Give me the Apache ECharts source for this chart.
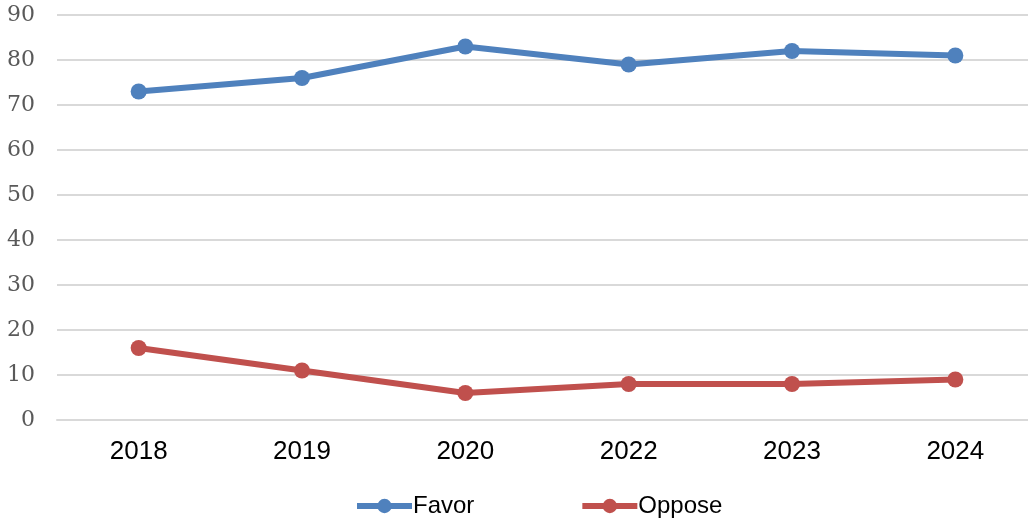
<!DOCTYPE html>
<html>
<head>
<meta charset="utf-8">
<script src="https://cdn.jsdelivr.net/npm/echarts@6/dist/echarts.min.js"></script>
<style>html,body{margin:0;padding:0;background:#fff}#c{width:1028px;height:520px}</style>
</head>
<body>
<div id="c"></div>
<script>
const categories = ['2018', '2019', '2020', '2022', '2023', '2024'];
const favor = [73, 76, 83, 79, 82, 81];
const oppose = [16, 11, 6, 8, 8, 9];
const yTicks = [0, 10, 20, 30, 40, 50, 60, 70, 80, 90];

const chart = echarts.init(document.getElementById('c'));
const mk = (name, data, color) => ({
  name, type: 'line', data,
  symbol: 'circle', symbolSize: 16,
  lineStyle: { width: 6, color },
  itemStyle: { color },
  animation: false
});
chart.setOption({
  animation: false,
  grid: { left: 57, width: 980, top: 15, height: 405, containLabel: false, outerBoundsMode: 'none' },
  xAxis: {
    type: 'category', data: categories, boundaryGap: true,
    axisLine: { show: true, lineStyle: { color: '#d9d9d9', width: 2 } },
    axisTick: { show: false },
    axisLabel: { color: '#000', fontFamily: 'Liberation Sans', fontSize: 26, margin: 19 }
  },
  yAxis: {
    type: 'value', min: yTicks[0], max: yTicks[yTicks.length - 1], interval: 10,
    axisLine: { show: false }, axisTick: { show: false },
    splitLine: { lineStyle: { color: '#d9d9d9', width: 2 } },
    axisLabel: { color: '#595959', fontFamily: 'DejaVu Serif', fontSize: 22, margin: 22, padding: [2, 0, 0, 0] }
  },
  legend: {
    left: 354, top: 494, padding: 0, itemWidth: 55, itemHeight: 18, itemGap: 105,
    lineStyle: { width: 6 },
    textStyle: { color: '#000', fontFamily: 'Liberation Sans', fontSize: 24, padding: [0, 0, 0, -4] },
    data: ['Favor', 'Oppose']
  },
  series: [mk('Favor', favor, '#4f81bd'), mk('Oppose', oppose, '#c0504d')]
});
</script>
</body>
</html>
